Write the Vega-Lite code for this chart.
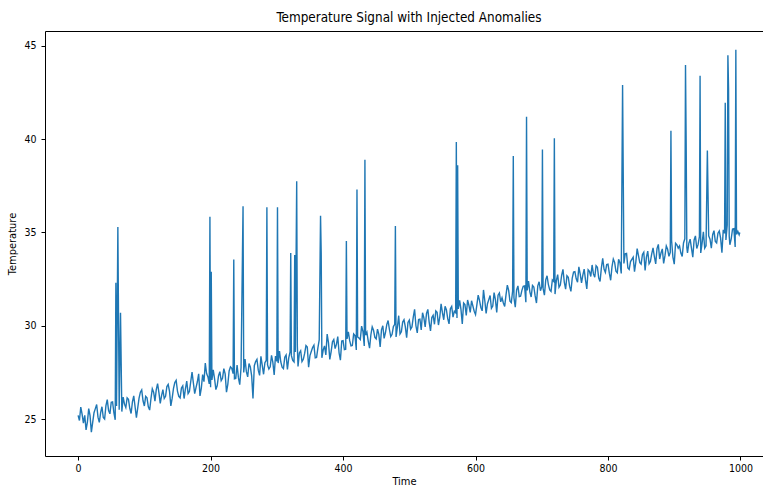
{
  "$schema": "https://vega.github.io/schema/vega-lite/v6.json",
  "width": 718,
  "height": 425,
  "autosize": {"type": "none"},
  "padding": {"left": 45, "top": 31, "right": 0, "bottom": 33},
  "background": "white",
  "title": {"text": "Temperature Signal with Injected Anomalies", "fontSize": 13.4, "fontWeight": "normal", "font": "DejaVu Sans Condensed, DejaVu Sans", "color": "#000", "offset": 7, "dx": 5},
  "config": {
    "view": {"stroke": "#000", "strokeWidth": 1},
    "axis": {"grid": false, "domain": false, "tickColor": "#000", "tickSize": 4, "labelColor": "#000", "titleColor": "#000", "labelFont": "DejaVu Sans Condensed, DejaVu Sans", "titleFont": "DejaVu Sans Condensed, DejaVu Sans", "labelFontSize": 10.5, "titleFontSize": 11, "titleFontWeight": "normal"}
  },
  "data": {"values": [
    {"t":0,"v":25.2},{"t":2,"v":24.92},{"t":4,"v":25.64},{"t":6,"v":25.26},{"t":8,"v":24.78},{"t":10,"v":25.2},{"t":12,"v":24.42},{"t":14,"v":24.84},{"t":16,"v":25.56},{"t":18,"v":25.18},{"t":20,"v":24.3},{"t":22,"v":24.82},{"t":24,"v":25.34},{"t":26,"v":25.56},{"t":28,"v":25.78},{"t":30,"v":25.1},{"t":32,"v":24.82},{"t":34,"v":25.34},{"t":36,"v":25.66},{"t":38,"v":25.08},
    {"t":40,"v":25.0},{"t":42,"v":25.72},{"t":44,"v":26.04},{"t":46,"v":25.46},{"t":48,"v":25.28},{"t":50,"v":25.9},{"t":52,"v":25.92},{"t":54,"v":25.34},{"t":56,"v":24.96},{"t":57,"v":32.3},{"t":58,"v":25.7},{"t":60,"v":35.3},{"t":62,"v":25.5},{"t":64,"v":30.7},{"t":66,"v":25.4},{"t":68,"v":26.18},{"t":70,"v":25.8},{"t":72,"v":25.62},{"t":74,"v":26.14},{"t":76,"v":26.06},{"t":78,"v":25.58},
    {"t":80,"v":25.3},{"t":82,"v":25.92},{"t":84,"v":26.24},{"t":86,"v":25.66},{"t":88,"v":25.08},{"t":90,"v":25.6},{"t":92,"v":26.12},{"t":94,"v":26.44},{"t":96,"v":26.56},{"t":98,"v":25.98},{"t":100,"v":25.7},{"t":102,"v":26.22},{"t":104,"v":26.14},{"t":106,"v":25.66},{"t":108,"v":25.48},{"t":110,"v":26.1},{"t":112,"v":26.62},{"t":114,"v":26.44},{"t":116,"v":25.96},{"t":118,"v":26.58},
    {"t":120,"v":26.9},{"t":122,"v":26.42},{"t":124,"v":25.84},{"t":126,"v":26.26},{"t":128,"v":26.58},{"t":130,"v":26.1},{"t":132,"v":26.22},{"t":134,"v":26.74},{"t":136,"v":26.86},{"t":138,"v":26.48},{"t":140,"v":25.7},{"t":142,"v":26.12},{"t":144,"v":26.64},{"t":146,"v":26.96},{"t":148,"v":27.08},{"t":150,"v":26.5},{"t":152,"v":26.22},{"t":154,"v":26.14},{"t":156,"v":26.66},{"t":158,"v":26.78},
    {"t":160,"v":26.1},{"t":162,"v":26.62},{"t":164,"v":27.04},{"t":166,"v":26.36},{"t":168,"v":26.48},{"t":170,"v":27.0},{"t":172,"v":27.52},{"t":174,"v":26.94},{"t":176,"v":26.36},{"t":178,"v":26.68},{"t":180,"v":27.0},{"t":182,"v":27.42},{"t":184,"v":26.24},{"t":186,"v":26.66},{"t":188,"v":27.38},{"t":190,"v":27.0},{"t":192,"v":28.0},{"t":194,"v":27.44},{"t":196,"v":27.26},{"t":198,"v":26.88},
    {"t":199,"v":35.85},{"t":200,"v":26.7},{"t":201,"v":32.9},{"t":202,"v":27.1},{"t":204,"v":27.64},{"t":206,"v":27.16},{"t":208,"v":26.58},{"t":210,"v":26.8},{"t":212,"v":27.32},{"t":214,"v":27.54},{"t":216,"v":27.06},{"t":218,"v":27.18},{"t":220,"v":27.7},{"t":222,"v":27.42},{"t":224,"v":26.44},{"t":226,"v":26.86},{"t":228,"v":27.58},{"t":230,"v":27.8},{"t":232,"v":27.72},{"t":234,"v":27.44},{"t":235,"v":33.55},{"t":236,"v":27.16},{"t":238,"v":27.18},
    {"t":240,"v":27.9},{"t":242,"v":27.22},{"t":244,"v":26.84},{"t":246,"v":27.76},{"t":249,"v":36.4},{"t":250,"v":27.5},{"t":252,"v":28.22},{"t":254,"v":27.54},{"t":256,"v":27.26},{"t":258,"v":27.98},{"t":260,"v":27.8},{"t":262,"v":27.32},{"t":264,"v":26.1},{"t":266,"v":27.86},{"t":268,"v":28.08},{"t":270,"v":28.2},{"t":272,"v":27.62},{"t":274,"v":27.34},{"t":276,"v":28.36},{"t":278,"v":27.88},
    {"t":280,"v":27.4},{"t":282,"v":28.02},{"t":284,"v":28.14},{"t":285,"v":36.35},{"t":286,"v":27.9},{"t":288,"v":27.68},{"t":290,"v":27.8},{"t":292,"v":28.42},{"t":294,"v":28.04},{"t":296,"v":27.36},{"t":298,"v":28.38},{"t":300,"v":28.1},{"t":301,"v":36.35},{"t":302,"v":28.0},{"t":304,"v":28.64},{"t":306,"v":28.06},{"t":308,"v":27.78},{"t":310,"v":27.7},{"t":312,"v":28.32},{"t":314,"v":28.44},{"t":316,"v":27.66},{"t":318,"v":28.28},
    {"t":320,"v":28.6},{"t":321,"v":33.9},{"t":322,"v":28.4},{"t":324,"v":28.14},{"t":326,"v":28.06},{"t":327,"v":33.8},{"t":328,"v":28.6},{"t":330,"v":37.75},{"t":331,"v":28.9},{"t":332,"v":27.82},{"t":334,"v":28.54},{"t":336,"v":28.66},{"t":338,"v":28.08},{"t":340,"v":28.2},{"t":342,"v":28.52},{"t":344,"v":28.94},{"t":346,"v":28.86},{"t":348,"v":27.78},{"t":350,"v":28.4},{"t":352,"v":28.62},{"t":354,"v":28.84},{"t":356,"v":28.96},{"t":358,"v":28.28},
    {"t":360,"v":28.3},{"t":362,"v":28.82},{"t":364,"v":29.24},{"t":366,"v":35.9},{"t":367,"v":33.9},{"t":368,"v":28.28},{"t":370,"v":28.7},{"t":372,"v":28.92},{"t":374,"v":28.44},{"t":376,"v":29.56},{"t":378,"v":29.08},{"t":380,"v":28.2},{"t":382,"v":28.62},{"t":384,"v":29.14},{"t":386,"v":29.26},{"t":388,"v":28.78},{"t":390,"v":29.0},{"t":392,"v":29.42},{"t":394,"v":28.54},{"t":396,"v":28.16},{"t":398,"v":29.18},
    {"t":400,"v":29.2},{"t":402,"v":28.72},{"t":404,"v":28.74},{"t":405,"v":34.55},{"t":406,"v":29.3},{"t":408,"v":29.68},{"t":410,"v":29.2},{"t":412,"v":28.92},{"t":414,"v":28.94},{"t":416,"v":29.56},{"t":418,"v":29.48},{"t":420,"v":28.7},{"t":421,"v":37.3},{"t":422,"v":29.4},{"t":424,"v":29.34},{"t":426,"v":29.26},{"t":428,"v":29.98},{"t":430,"v":29.7},{"t":432,"v":28.92},{"t":433,"v":38.9},{"t":434,"v":29.5},{"t":436,"v":29.66},{"t":438,"v":29.18},
    {"t":440,"v":28.8},{"t":442,"v":29.52},{"t":444,"v":29.94},{"t":446,"v":29.76},{"t":448,"v":29.38},{"t":450,"v":29.3},{"t":452,"v":29.82},{"t":454,"v":29.54},{"t":456,"v":28.86},{"t":458,"v":29.78},{"t":460,"v":30.0},{"t":462,"v":29.32},{"t":464,"v":29.64},{"t":466,"v":30.06},{"t":468,"v":30.28},{"t":470,"v":29.8},{"t":472,"v":29.42},{"t":474,"v":29.54},{"t":476,"v":29.96},{"t":478,"v":30.08},{"t":479,"v":35.35},
    {"t":480,"v":29.4},{"t":482,"v":29.92},{"t":484,"v":30.54},{"t":486,"v":29.56},{"t":488,"v":29.68},{"t":490,"v":30.2},{"t":492,"v":30.32},{"t":494,"v":29.94},{"t":496,"v":29.36},{"t":498,"v":30.18},{"t":500,"v":30.3},{"t":502,"v":29.82},{"t":504,"v":29.94},{"t":506,"v":30.46},{"t":508,"v":30.88},{"t":510,"v":30.0},{"t":512,"v":29.62},{"t":514,"v":30.34},{"t":516,"v":30.36},{"t":518,"v":29.78},
    {"t":520,"v":30.7},{"t":522,"v":30.42},{"t":524,"v":29.94},{"t":526,"v":30.66},{"t":528,"v":30.88},{"t":530,"v":30.2},{"t":532,"v":29.72},{"t":534,"v":30.44},{"t":536,"v":30.56},{"t":538,"v":30.08},{"t":540,"v":30.8},{"t":542,"v":30.72},{"t":544,"v":30.04},{"t":546,"v":30.46},{"t":548,"v":31.18},{"t":550,"v":30.7},{"t":552,"v":30.32},{"t":554,"v":31.04},{"t":556,"v":30.86},{"t":558,"v":30.38},
    {"t":560,"v":30.1},{"t":562,"v":30.92},{"t":564,"v":31.04},{"t":566,"v":30.46},{"t":568,"v":30.78},{"t":570,"v":30.7},{"t":571,"v":39.85},{"t":572,"v":30.42},{"t":573,"v":38.6},{"t":574,"v":30.9},{"t":576,"v":31.36},{"t":578,"v":30.88},{"t":580,"v":30.1},{"t":582,"v":31.22},{"t":584,"v":31.14},{"t":586,"v":30.56},{"t":588,"v":31.38},{"t":590,"v":31.1},{"t":592,"v":30.72},{"t":594,"v":31.34},{"t":596,"v":31.06},{"t":598,"v":30.78},
    {"t":600,"v":30.6},{"t":602,"v":31.12},{"t":604,"v":31.64},{"t":606,"v":31.36},{"t":608,"v":30.98},{"t":610,"v":30.8},{"t":612,"v":31.92},{"t":614,"v":31.34},{"t":616,"v":30.66},{"t":618,"v":31.18},{"t":620,"v":31.4},{"t":622,"v":31.62},{"t":624,"v":30.94},{"t":626,"v":31.06},{"t":628,"v":31.78},{"t":630,"v":31.4},{"t":632,"v":30.72},{"t":634,"v":31.64},{"t":636,"v":31.76},{"t":638,"v":31.28},
    {"t":640,"v":31.5},{"t":642,"v":31.22},{"t":644,"v":31.04},{"t":646,"v":31.66},{"t":648,"v":32.18},{"t":650,"v":31.9},{"t":652,"v":31.32},{"t":654,"v":31.24},{"t":656,"v":31.86},{"t":657,"v":39.1},{"t":658,"v":31.5},{"t":660,"v":31.0},{"t":662,"v":31.92},{"t":664,"v":32.14},{"t":666,"v":31.56},{"t":668,"v":31.58},{"t":670,"v":31.9},{"t":672,"v":32.12},{"t":674,"v":32.14},{"t":676,"v":31.26},{"t":677,"v":41.2},{"t":678,"v":31.9},
    {"t":680,"v":32.4},{"t":682,"v":31.82},{"t":684,"v":31.54},{"t":686,"v":32.16},{"t":688,"v":32.08},{"t":690,"v":31.6},{"t":692,"v":31.22},{"t":694,"v":32.14},{"t":696,"v":32.36},{"t":698,"v":31.88},{"t":700,"v":32.1},{"t":701,"v":39.45},{"t":702,"v":32.0},{"t":704,"v":31.64},{"t":706,"v":32.46},{"t":708,"v":32.68},{"t":710,"v":32.2},{"t":712,"v":31.92},{"t":714,"v":31.84},{"t":716,"v":32.46},{"t":718,"v":32.38},{"t":719,"v":40.05},
    {"t":720,"v":31.7},{"t":722,"v":32.42},{"t":724,"v":32.74},{"t":726,"v":32.06},{"t":728,"v":32.18},{"t":730,"v":32.7},{"t":732,"v":33.02},{"t":734,"v":32.34},{"t":736,"v":31.96},{"t":738,"v":32.68},{"t":740,"v":32.6},{"t":742,"v":32.12},{"t":744,"v":31.84},{"t":746,"v":32.56},{"t":748,"v":32.88},{"t":750,"v":32.9},{"t":752,"v":32.52},{"t":754,"v":32.34},{"t":756,"v":33.16},{"t":758,"v":32.78},
    {"t":760,"v":32.3},{"t":762,"v":32.72},{"t":764,"v":33.04},{"t":766,"v":32.46},{"t":768,"v":31.98},{"t":770,"v":33.0},{"t":772,"v":32.92},{"t":774,"v":32.64},{"t":776,"v":33.26},{"t":778,"v":32.78},{"t":780,"v":32.6},{"t":782,"v":33.22},{"t":784,"v":33.14},{"t":786,"v":32.56},{"t":788,"v":32.38},{"t":790,"v":33.1},{"t":792,"v":33.62},{"t":794,"v":33.04},{"t":796,"v":32.86},{"t":798,"v":33.28},
    {"t":800,"v":33.3},{"t":802,"v":32.82},{"t":804,"v":32.44},{"t":806,"v":33.16},{"t":808,"v":33.58},{"t":810,"v":33.4},{"t":812,"v":32.92},{"t":814,"v":32.84},{"t":816,"v":33.56},{"t":818,"v":33.38},{"t":820,"v":32.8},{"t":822,"v":42.9},{"t":824,"v":33.34},{"t":826,"v":33.86},{"t":828,"v":33.88},{"t":830,"v":33.1},{"t":832,"v":33.02},{"t":834,"v":33.44},{"t":836,"v":33.56},{"t":838,"v":33.68},
    {"t":840,"v":32.9},{"t":842,"v":33.42},{"t":844,"v":34.14},{"t":846,"v":33.76},{"t":848,"v":33.38},{"t":850,"v":33.3},{"t":852,"v":33.82},{"t":854,"v":33.94},{"t":856,"v":32.96},{"t":858,"v":33.68},{"t":860,"v":34.0},{"t":862,"v":33.32},{"t":864,"v":33.44},{"t":866,"v":33.86},{"t":868,"v":34.18},{"t":870,"v":33.7},{"t":872,"v":33.32},{"t":874,"v":34.14},{"t":876,"v":34.36},{"t":878,"v":33.58},
    {"t":880,"v":33.9},{"t":882,"v":34.12},{"t":884,"v":33.34},{"t":886,"v":33.76},{"t":888,"v":34.28},{"t":890,"v":34.1},{"t":892,"v":33.72},{"t":894,"v":33.94},{"t":895,"v":40.45},{"t":896,"v":34.56},{"t":898,"v":33.68},{"t":900,"v":33.3},{"t":902,"v":34.42},{"t":904,"v":34.34},{"t":906,"v":34.16},{"t":908,"v":34.28},{"t":910,"v":33.9},{"t":912,"v":33.72},{"t":914,"v":34.44},{"t":916,"v":34.66},{"t":917,"v":43.98},{"t":918,"v":39.8},{"t":919,"v":34.2},
    {"t":920,"v":33.9},{"t":922,"v":34.42},{"t":924,"v":34.64},{"t":926,"v":34.16},{"t":928,"v":33.68},{"t":930,"v":34.6},{"t":932,"v":34.82},{"t":934,"v":34.14},{"t":936,"v":34.36},{"t":938,"v":34.78},{"t":939,"v":43.4},{"t":940,"v":33.9},{"t":942,"v":34.42},{"t":944,"v":35.04},{"t":946,"v":34.16},{"t":948,"v":34.28},{"t":950,"v":39.4},{"t":952,"v":34.82},{"t":954,"v":34.64},{"t":956,"v":34.16},{"t":958,"v":34.88},
    {"t":960,"v":35.1},{"t":962,"v":34.52},{"t":964,"v":34.44},{"t":966,"v":34.96},{"t":968,"v":35.08},{"t":970,"v":34.7},{"t":972,"v":33.92},{"t":974,"v":35.14},{"t":976,"v":34.96},{"t":977,"v":41.95},{"t":978,"v":34.6},{"t":980,"v":35.4},{"t":981,"v":44.5},{"t":982,"v":42.7},{"t":983,"v":34.8},{"t":984,"v":34.34},{"t":986,"v":34.66},{"t":988,"v":35.18},{"t":990,"v":35.2},{"t":992,"v":34.22},{"t":993,"v":44.8},{"t":994,"v":34.9},{"t":996,"v":35.06},{"t":998,"v":34.88},{"t":999,"v":35.0}
  ]},
  "mark": {"type": "line", "color": "#1f77b4", "strokeWidth": 1.4, "clip": true},
  "encoding": {
    "x": {"field": "t", "type": "quantitative", "title": "Time", "scale": {"domain": [-50, 1034], "nice": false, "zero": false}, "axis": {"values": [0, 200, 400, 600, 800, 1000], "format": "d", "labelPadding": 3, "titlePadding": 2, "labelFlush": false}},
    "y": {"field": "v", "type": "quantitative", "title": "Temperature", "scale": {"domain": [23.02, 45.8], "nice": false, "zero": false}, "axis": {"values": [25, 30, 35, 40, 45], "labelPadding": 5, "titlePadding": 6}}
  }
}
